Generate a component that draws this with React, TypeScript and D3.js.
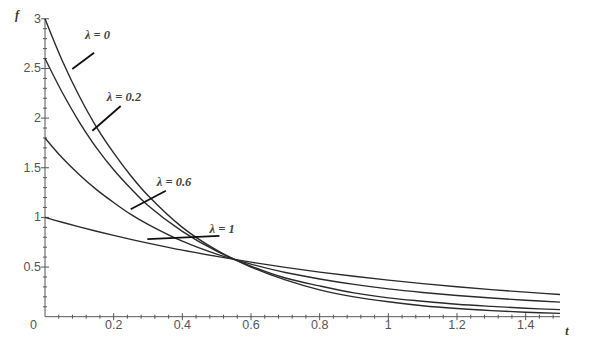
import React from "react";
import * as d3 from "d3";

// sample points
const tValues = [0, 0.05, 0.1, 0.15, 0.2, 0.25, 0.3, 0.4, 0.5, 0.6, 0.7, 0.8, 0.9, 1.0, 1.1, 1.2, 1.3, 1.4, 1.5];
const fLambda0 = [3, 2.58, 2.22, 1.91, 1.65, 1.42, 1.22, 0.9, 0.67, 0.5, 0.37, 0.27, 0.2, 0.15, 0.11, 0.082, 0.061, 0.045, 0.033];
const fLambda02 = [2.6, 2.26, 1.96, 1.7, 1.48, 1.29, 1.12, 0.86, 0.66, 0.51, 0.39, 0.31, 0.24, 0.19, 0.156, 0.126, 0.104, 0.085, 0.071];
const fLambda06 = [1.8, 1.6, 1.43, 1.28, 1.15, 1.03, 0.93, 0.76, 0.63, 0.53, 0.445, 0.38, 0.325, 0.28, 0.244, 0.214, 0.188, 0.166, 0.147];
const fLambda1 = [1, 0.951, 0.905, 0.861, 0.819, 0.779, 0.741, 0.67, 0.607, 0.549, 0.497, 0.449, 0.407, 0.368, 0.333, 0.301, 0.273, 0.247, 0.223];

const seriesNames = ["λ = 0", "λ = 0.2", "λ = 0.6", "λ = 1"];
const seriesValues = [fLambda0, fLambda02, fLambda06, fLambda1];

// label position and leader line (data units): [labelT, labelF, x1, y1, x2, y2]
const labelSpots = [
  [0.153, 2.8, 0.0795, 2.495, 0.143, 2.659],
  [0.23, 2.17, 0.138, 1.873, 0.2205, 2.122],
  [0.376, 1.32, 0.2496, 1.082, 0.352, 1.269],
  [0.516, 0.84, 0.298, 0.782, 0.508, 0.813],
];

const xTickLabels = ["0.2", "0.4", "0.6", "0.8", "1", "1.2", "1.4"];
const yTickLabels = ["0.5", "1", "1.5", "2", "2.5", "3"];

const W = 600;
const H = 353;

export default function App() {
  const x = d3.scaleLinear().domain([0, 1.5]).range([45, 560]);
  const y = d3.scaleLinear().domain([0, 3]).range([316.7, 18.8]);

  const line = d3
    .line<number>()
    .x((_, i) => x(tValues[i]))
    .y((d) => y(d))
    .curve(d3.curveCatmullRom.alpha(0.5));

  const xMinor = d3.range(0.04, 1.5001, 0.04);
  const yMinor = d3.range(0.1, 3.0001, 0.1);

  return (
    <>
      <style>{`body{margin:0}`}</style>
      <svg width={W} height={H} style={{ display: "block", background: "#fff" }}>
        {/* axes */}
        <g stroke="#555" strokeWidth={1}>
          <line x1={x(0)} x2={x(1.5)} y1={y(0)} y2={y(0)} />
          <line x1={x(0)} x2={x(0)} y1={y(0)} y2={y(3)} />
          {xMinor.map((t, i) => {
            const major = Math.abs((t / 0.2) - Math.round(t / 0.2)) < 1e-6;
            const h = major ? 3.5 : 2;
            return <line key={"xt" + i} x1={x(t)} x2={x(t)} y1={y(0) - h} y2={y(0) + h} />;
          })}
          {yMinor.map((v, i) => {
            const major = Math.abs((v / 0.5) - Math.round(v / 0.5)) < 1e-6;
            const h = major ? 4 : 2;
            return <line key={"yt" + i} x1={x(0) - h} x2={x(0) + h} y1={y(v)} y2={y(v)} />;
          })}
        </g>

        {/* tick labels */}
        <g fontFamily="Liberation Sans, Arial, sans-serif" fontSize={12.5} fill="#555">
          {xTickLabels.map((s) => (
            <text key={s} x={x(+s)} y={329} textAnchor="middle">
              {s}
            </text>
          ))}
          {yTickLabels.map((s) => (
            <text key={s} x={x(0) - 4} y={y(+s) + 4} textAnchor="end">
              {s}
            </text>
          ))}
          <text x={x(0) - 8} y={329} textAnchor="end">0</text>
        </g>

        {/* axis titles */}
        <g fontFamily="Liberation Serif, Times New Roman, serif" fontStyle="italic" fontWeight="bold" fill="#333">
          <text x={17} y={19} fontSize={12} textAnchor="middle">f</text>
          <text x={567} y={335} fontSize={12} textAnchor="middle">t</text>
        </g>

        {/* curves */}
        <g fill="none" stroke="#2b2b2b" strokeWidth={1.4}>
          {seriesValues.map((vals, i) => (
            <path key={"c" + i} d={line(vals) || ""} />
          ))}
        </g>

        {/* curve labels */}
        {seriesNames.map((name, i) => {
          const s = labelSpots[i];
          return (
            <g key={"l" + i}>
              <line
                x1={x(s[2])}
                y1={y(s[3])}
                x2={x(s[4])}
                y2={y(s[5])}
                stroke="#111"
                strokeWidth={1.8}
              />
              <text
                x={x(s[0])}
                y={y(s[1])}
                textAnchor="middle"
                fontFamily="Liberation Serif, Times New Roman, serif"
                fontStyle="italic"
                fontWeight="bold"
                fontSize={12.5}
                fill="#444"
              >
                {name}
              </text>
            </g>
          );
        })}
      </svg>
    </>
  );
}
